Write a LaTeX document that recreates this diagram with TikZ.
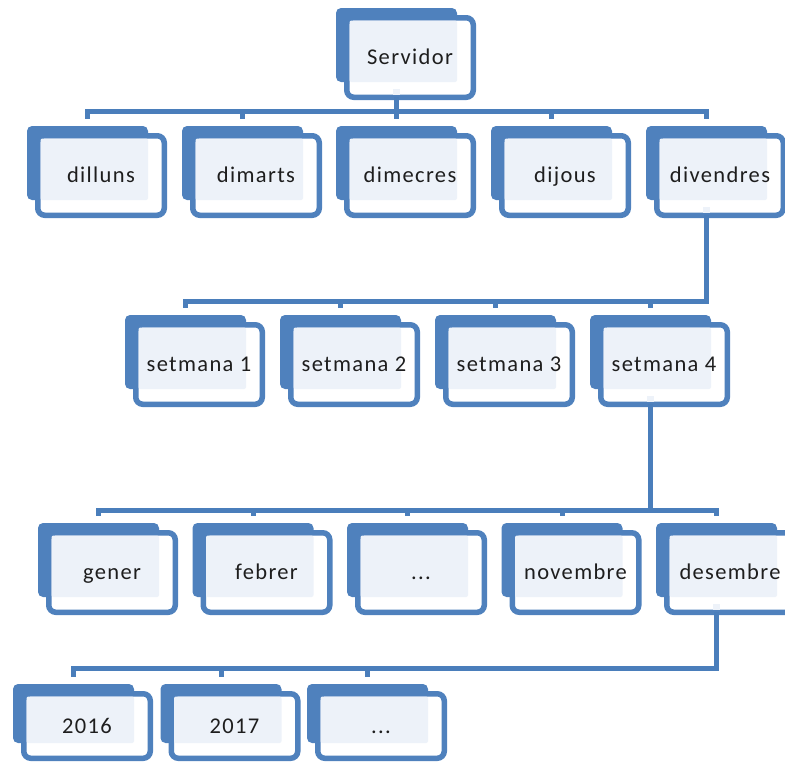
\documentclass[tikz,border=0pt]{standalone}
\usepackage{fontspec}
\setmainfont{Carlito}[LetterSpace=6.0]
\usetikzlibrary{calc}

\definecolor{boxblue}{HTML}{4F81BD}
\definecolor{linkblue}{HTML}{4A7EBB}
\definecolor{paleblue}{HTML}{EDF2F9}
\definecolor{inktext}{HTML}{1E1E1E}

% heights of the back (filled) and front (outlined) boxes
\newcommand\bh{74}
\newcommand\fh{79.5}

\tikzset{
  backbox/.style={fill=boxblue, rounded corners=5pt, minimum width=121pt,
    minimum height=\bh pt, inner sep=0pt, outer sep=0pt, anchor=north west},
  frontbox/.style={draw=boxblue, line width=5.5pt, fill=white, rounded corners=7pt,
    minimum width=126.5pt, minimum height=\fh pt, inner sep=0pt, outer sep=0pt,
    anchor=north west},
  lbl/.style={inner sep=0pt, anchor=base, text=inktext,
    font=\fontsize{22.5pt}{26pt}\selectfont},
  conn/.style={draw=linkblue, line width=5pt}
}

% one org-chart box: name, left, top, text
\newcommand\orgbox[4]{%
  \node[backbox] (#1-b) at (#2pt,-#3pt) {};
  \node[frontbox] (#1) at (#2pt+10.75pt,-#3pt-9.75pt) {};
  \fill[paleblue, rounded corners=2pt]
    ([shift={(2.75pt,-2.75pt)}]#1.north west) rectangle (#1-b.south east);
  \node[lbl] (#1-t) at ($(#1.center)+(0,-7pt)$) {#4};
}

% elbow connector: parent, child, height of the bus above the child
\newcommand\orglink[3]{%
  \draw[conn] (#1-b.south |- #1.south) |- ($(#2-b.north)+(0,#3pt)$)
    -- ($(#2-b.north)+(0,7pt)$);
}

% pale notch inside a parent box where its connector leaves
\newcommand\orgexit[1]{%
  \fill[paleblue] ($(#1-b.south |- #1.south)+(-3.5pt,2.75pt)$)
    rectangle ++(7pt,6pt);
}

\begin{document}
\begin{tikzpicture}
\useasboundingbox (0,0) rectangle (785pt,-763pt);
\clip (0,0) rectangle (785pt,-763pt);

% root
\orgbox{ser}{336}{8}{Servidor}

% days
\orgbox{dl}{27}{126}{dilluns}
\orgbox{dm}{182}{126}{dimarts}
\orgbox{dc}{336}{126}{dimecres}
\orgbox{dj}{491}{126}{dijous}
\orgbox{dv}{646}{126}{divendres}

% weeks
\orgbox{s1}{125}{315}{setmana 1}
\orgbox{s2}{280}{315}{setmana 2}
\orgbox{s3}{435}{315}{setmana 3}
\orgbox{s4}{590}{315}{setmana 4}

% months
\orgbox{m1}{38}{523}{gener}
\orgbox{m2}{192.5}{523}{febrer}
\orgbox{m3}{347}{523}{...}
\orgbox{m4}{501.5}{523}{novembre}
\orgbox{m5}{656}{523}{desembre}

% years (shorter boxes)
\renewcommand\bh{59}
\renewcommand\fh{64.5}
\orgbox{y1}{13}{684}{2016}
\orgbox{y2}{160.5}{684}{2017}
\orgbox{y3}{307}{684}{...}

% connectors
\foreach \p in {ser,dv,s4,m5} {\orgexit{\p}}
\foreach \c in {dl,dm,dc,dj,dv} {\orglink{ser}{\c}{15}}
\foreach \c in {s1,s2,s3,s4} {\orglink{dv}{\c}{14}}
\foreach \c in {m1,m2,m3,m4,m5} {\orglink{s4}{\c}{13}}
\foreach \c in {y1,y2,y3} {\orglink{m5}{\c}{16}}
\end{tikzpicture}
\end{document}
